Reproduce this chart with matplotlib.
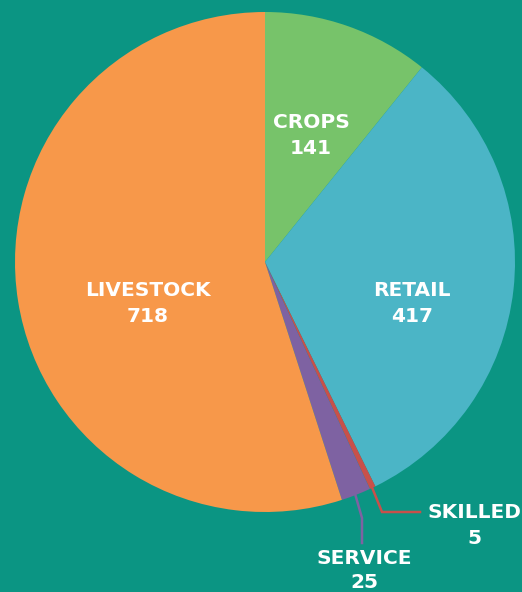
import numpy as np
import matplotlib
matplotlib.use("Agg")
import matplotlib.pyplot as plt

categories = ["CROPS", "RETAIL", "SKILLED", "SERVICE", "LIVESTOCK"]
values = [141, 417, 5, 25, 718]
colors = ["#77c36a", "#4bb5c6", "#c8504a", "#7e62a2", "#f7984a"]
bg = "#0b9583"

W, H = 522, 592
fig = plt.figure(figsize=(W / 100, H / 100), dpi=100, facecolor=bg)
ax = fig.add_axes([0, 0, 1, 1])
ax.set_facecolor(bg)

cx, cy, R = 265, H - 262, 250
wedges, _ = ax.pie(values, colors=colors, startangle=90, counterclock=False,
                   radius=R, center=(cx, cy), frame=True,
                   wedgeprops=dict(linewidth=0))
ax.set_xlim(0, W)
ax.set_ylim(0, H)
ax.set_aspect("equal")
ax.axis("off")

font = dict(family=["DejaVu Sans"], fontweight="bold", color="white",
            fontsize=14.5, ha="center", va="center")

def py(y):
    return H - y

# inside labels
inside = {"CROPS": (311, 123, 148), "RETAIL": (412, 290, 316), "LIVESTOCK": (148, 290, 316)}
for name, (x, y1, y2) in inside.items():
    i = categories.index(name)
    ax.text(x, py(y1), name, **font)
    ax.text(x, py(y2), str(values[i]), **font)

# leader lines for small slices
total = sum(values)
cum = np.cumsum([0] + values)
def edge_point(i, r):
    mid = (cum[i] + values[i] / 2) / total * 360
    ang = np.deg2rad(90 - mid)
    return cx + r * np.cos(ang), cy + r * np.sin(ang)

i = categories.index("SKILLED")
x0, y0 = edge_point(i, R * 0.97)
ax.plot([x0, 382, 420], [y0, py(512), py(512)], color=colors[i], lw=1.8,
        solid_joinstyle="miter")
ax.text(474, py(513), "SKILLED", **font)
ax.text(474, py(538), str(values[i]), **font)

i = categories.index("SERVICE")
x0, y0 = edge_point(i, R * 0.97)
ax.plot([x0, 362, 362], [y0, py(518), py(543)], color=colors[i], lw=1.8,
        solid_joinstyle="miter")
ax.text(364, py(558), "SERVICE", **font)
ax.text(364, py(583), str(values[i]), **font)

fig.savefig("out.png", dpi=100, facecolor=bg)
